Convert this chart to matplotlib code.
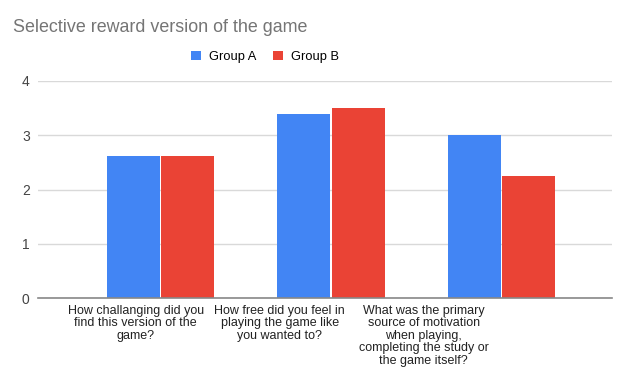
import matplotlib
matplotlib.use("Agg")
import matplotlib.pyplot as plt
import numpy as np

plt.rcParams['font.family'] = ['Liberation Sans', 'DejaVu Sans']

title = "Selective reward version of the game"
categories = [
    "How challanging did you\nfind this version of the\ngame?",
    "How free did you feel in\nplaying the game like\nyou wanted to?",
    "What was the primary\nsource of motivation\nwhen playing,\ncompleting the study or\nthe game itself?",
]
series_names = ["Group A", "Group B"]
group_a = [2.625, 3.39, 3.0]
group_b = [2.625, 3.5, 2.25]
yticks = [0, 1, 2, 3, 4]
colors = ["#4285F4", "#EA4335"]

fig = plt.figure(figsize=(6.2, 3.7), dpi=100)
ax = fig.add_axes([38/620, 1-298/370, (612-38)/620, (298-81)/370])

x = np.arange(len(categories))
w = 0.31
gap = 0.009
ax.bar(x - w/2 - gap/2, group_a, width=w, color=colors[0], label=series_names[0], zorder=3)
ax.bar(x + w/2 + gap/2, group_b, width=w, color=colors[1], label=series_names[1], zorder=3)

ax.set_xlim(-0.72, 2.65)
ax.set_ylim(0, 4)
ax.set_yticks(yticks)
ax.set_yticklabels([str(t) for t in yticks], fontsize=10, color="#444444")
ax.tick_params(axis='y', length=0, pad=6)
ax.yaxis.grid(True, color="#d9d9d9", linewidth=1, zorder=0)
for s in ['top', 'right', 'left']:
    ax.spines[s].set_visible(False)
ax.spines['bottom'].set_color("#888888")
ax.spines['bottom'].set_linewidth(1.2)
ax.spines['bottom'].set_zorder(4)

# Google-charts style label placement (offset from bar groups)
label_pos = x * 0.845 - 0.146
ax.set_xticks(label_pos)
ax.set_xticklabels(categories, fontsize=9, color="#222222", linespacing=1.05, ha='center', va='top')
ax.tick_params(axis='x', length=0, pad=5)

fig.text(13/620, 1-27/370, title, fontsize=12.9, color="#757575", va='center', ha='left')

leg = fig.legend(loc='center', bbox_to_anchor=(265/620, 1-57/370), ncol=2, frameon=False,
                 fontsize=9.3, handlelength=0.75, handleheight=0.75, handletextpad=0.6,
                 columnspacing=1.3)

fig.savefig("out.png", dpi=100)
